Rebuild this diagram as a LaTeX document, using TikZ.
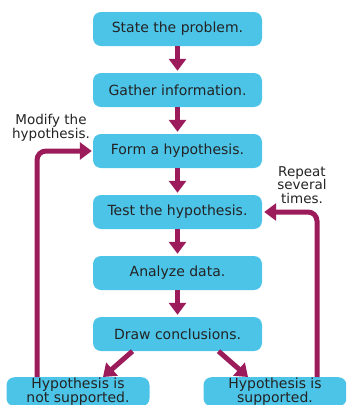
\documentclass[tikz,border=0pt]{standalone}
\usepackage{fontspec}
\setmainfont{DejaVu Sans}
\usepackage{tikz}
\usetikzlibrary{arrows.meta}
\usetikzlibrary{positioning}

\definecolor{boxblue}{RGB}{76,196,232}
\definecolor{arrowred}{RGB}{155,27,91}
\definecolor{textgray}{RGB}{35,35,35}

\tikzset{
    stepbox/.style={fill=boxblue, rounded corners=8pt, minimum width=169pt, minimum height=34pt,
        inner sep=0pt, text=textgray, font=\fontsize{14}{12}\selectfont},
    endbox/.style={stepbox, minimum width=143pt, minimum height=0pt, inner ysep=0.5pt,
        align=center, anchor=north, font=\fontsize{14}{11.5}\selectfont},
    note/.style={text=textgray, align=center, font=\fontsize{13.5}{13.5}\selectfont},
    flow/.style={line width=5pt, arrowred, -{Triangle[length=12pt,width=17pt]}}
}

\begin{document}
\begin{tikzpicture}[x=1pt,y=-1pt,node distance=26.6pt]
        \useasboundingbox (0,0) rectangle (346,405);
        \clip (0,0) rectangle (346,405);

        \node [stepbox] (state) at (177.5,29) {State the problem.};
        \node [stepbox,below=of state] (gather) {Gather information.};
        \node [stepbox,below=of gather] (form) {Form a hypothesis.};
        \node [stepbox,below=of form] (test) {Test the hypothesis.};
        \node [stepbox,below=of test] (analyze) {Analyze data.};
        \node [stepbox,below=of analyze] (conclude) {Draw conclusions.};

        \node [endbox] (notsup) at (78,377) {Hypothesis is\\not supported.};
        \node [endbox] (sup) at (275,377) {Hypothesis is\\supported.};

        \node [note] (modify) at (51,128) {Modify the\\hypothesis.};
        \node [note] (repeat) at (302,185) {Repeat\\several\\times.};

        \draw [flow,shorten >=2pt] (state) -- (gather);
        \draw [flow,shorten >=2pt] (gather) -- (form);
        \draw [flow,shorten >=2pt] (form) -- (test);
        \draw [flow,shorten >=2pt] (test) -- (analyze);
        \draw [flow,shorten >=2pt] (analyze) -- (conclude);

        \draw [flow] ([xshift=-45pt]conclude.south) -- ([xshift=25pt]notsup.north);
        \draw [flow] ([xshift=41pt]conclude.south) -- ([xshift=-27pt]sup.north);

        % loops back up
        \draw [flow,rounded corners=9pt] ([xshift=-41pt]notsup.north) |- ([xshift=-1pt]form.west);
        \draw [flow,rounded corners=9pt] ([xshift=42pt]sup.north) |- ([xshift=2pt]test.east);
\end{tikzpicture}
\end{document}
